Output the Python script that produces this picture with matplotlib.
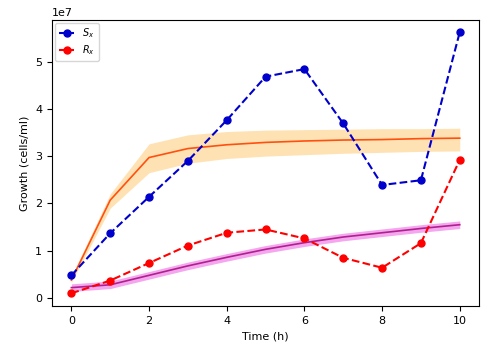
import numpy as np
import matplotlib
matplotlib.use("Agg")
from matplotlib import pyplot as plt

t = np.arange(11)

# observed data (cells/ml)
s_x = np.array([0.48, 1.37, 2.14, 2.90, 3.76, 4.68, 4.84, 3.69, 2.39, 2.49, 5.62]) * 1e7
r_x = np.array([0.10, 0.37, 0.74, 1.11, 1.38, 1.45, 1.26, 0.85, 0.64, 1.16, 2.92]) * 1e7

# model fits with bands
s_fit = np.array([0.38, 2.07, 2.97, 3.16, 3.24, 3.29, 3.32, 3.34, 3.35, 3.37, 3.38]) * 1e7
s_hi = np.array([0.45, 2.20, 3.26, 3.45, 3.52, 3.55, 3.56, 3.57, 3.58, 3.58, 3.59]) * 1e7
s_lo = np.array([0.33, 1.90, 2.65, 2.85, 2.95, 3.00, 3.03, 3.06, 3.08, 3.10, 3.11]) * 1e7

r_fit = np.array([0.22, 0.28, 0.48, 0.68, 0.86, 1.03, 1.17, 1.29, 1.38, 1.47, 1.55]) * 1e7
r_hi = r_fit + 0.08e7
r_lo = r_fit - 0.08e7


def main():
    fig = plt.figure(figsize=(4.95, 3.49), dpi=100)
    ax = fig.add_axes([0.105, 0.123, 0.863, 0.820])

    ax.fill_between(t, s_lo, s_hi, color='#ffe2b3', linewidth=0)
    ax.plot(t, s_fit, color='#ff5010', linewidth=1.2)
    ax.fill_between(t, r_lo, r_hi, color='#f4a6ee', linewidth=0)
    ax.plot(t, r_fit, color='#b0208f', linewidth=1.2)

    ax.plot(t, s_x, '--o', color='#0000cc', markersize=5, label='$S_x$')
    ax.plot(t, r_x, '--o', color='#ff0000', markersize=5, label='$R_x$')

    ax.set_xlim(-0.5, 10.5)
    ax.set_ylim(-0.17e7, 5.88e7)
    ax.set_xticks([0, 2, 4, 6, 8, 10])
    ax.set_xlabel("Time (h)", fontsize=8)
    ax.set_ylabel("Growth (cells/ml)", fontsize=8)
    ax.tick_params(labelsize=8)
    ax.yaxis.get_offset_text().set_fontsize(8)
    ax.legend(loc='upper left', fontsize=7, handlelength=1.6,
              labelspacing=0.3, borderaxespad=0.3)

    fig.savefig("out.png", dpi=100)


if __name__ == '__main__':
    main()
